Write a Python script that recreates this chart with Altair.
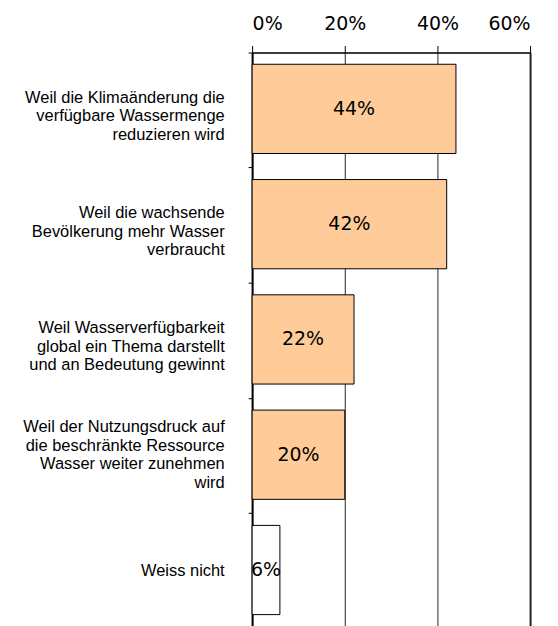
import altair as alt
import pandas as pd

category_lines = [
    ["Weil die Klimaänderung die", "verfügbare Wassermenge", "reduzieren wird"],
    ["Weil die wachsende", "Bevölkerung mehr Wasser", "verbraucht"],
    ["Weil Wasserverfügbarkeit", "global ein Thema darstellt", "und an Bedeutung gewinnt"],
    ["Weil der Nutzungsdruck auf", "die beschränkte Ressource", "Wasser weiter zunehmen", "wird"],
    ["Weiss nicht"],
]
values = [0.44, 0.42, 0.22, 0.20, 0.06]
fills = ["#FFCC99", "#FFCC99", "#FFCC99", "#FFCC99", "#FFFFFF"]
x_ticks = [0, 0.2, 0.4, 0.6]

categories = ["|".join(l) for l in category_lines]
df = pd.DataFrame({"cat": categories, "value": values, "fill": fills})

LH = 18.6
TICK_SHIFT = -57
label_offset = {
    "condition": [
        {"test": "length(split(datum.label, '|')) == 2", "value": -TICK_SHIFT - LH / 2},
        {"test": "length(split(datum.label, '|')) == 3", "value": -TICK_SHIFT - LH + 7},
        {"test": "length(split(datum.label, '|')) == 4", "value": -TICK_SHIFT - 1.5 * LH},
    ],
    "value": -TICK_SHIFT + 1,
}

y_enc = alt.Y(
    "cat:N",
    sort=categories,
    scale=alt.Scale(paddingInner=0.226, paddingOuter=0.102),
    axis=alt.Axis(
        title=None,
        labelExpr="split(datum.label, '|')",
        labelFont="Liberation Sans",
        labelFontSize=16.5,
        labelLineHeight=LH,
        labelColor="#000000",
        labelLimit=400,
        labelPadding=24,
        labelOffset=label_offset,
        tickSize=4,
        tickColor="#000000",
        tickWidth=1,
        tickOffset=TICK_SHIFT,
        domainColor="#000000",
        domainWidth=2,
        grid=False,
    ),
)

x_scale = alt.Scale(domain=[0, 0.6], nice=False)

bars = alt.Chart(df).mark_bar(stroke="#000000", strokeWidth=1).encode(
    x=alt.X(
        "value:Q",
        scale=x_scale,
        axis=alt.Axis(
            orient="top",
            title=None,
            values=x_ticks,
            format=".0%",
            labelFont="DejaVu Sans",
            labelFontSize=19,
            labelColor="#000000",
            labelPadding=12,
            tickSize=7,
            tickColor="#000000",
            domainColor="#000000",
            domainWidth=1.5,
            grid=True,
            gridColor="#000000",
            gridWidth=alt.condition("datum.value >= 0.6", alt.value(2), alt.value(1)),
            gridOpacity=0.85,
        ),
    ),
    y=y_enc,
    fill=alt.Fill("fill:N", scale=None, legend=None),
)

labels = alt.Chart(df).transform_calculate(mid="datum.value / 2").mark_text(
    font="DejaVu Sans", fontSize=19, color="#000000", baseline="middle", align="center"
).encode(
    x=alt.X("mid:Q", scale=x_scale),
    y=alt.Y("cat:N", sort=categories),
    text=alt.Text("value:Q", format=".0%"),
)

chart = (
    alt.layer(bars, labels)
    .properties(
        width=279,
        height=576,
        autosize=alt.AutoSizeParams(type="none"),
        padding={"left": 245, "top": 43.5, "right": 20, "bottom": 10},
    )
    .configure_view(stroke=None)
    .configure(background="#FFFFFF")
)

chart.save("out.html", embed_options={"renderer": "svg", "actions": False})
